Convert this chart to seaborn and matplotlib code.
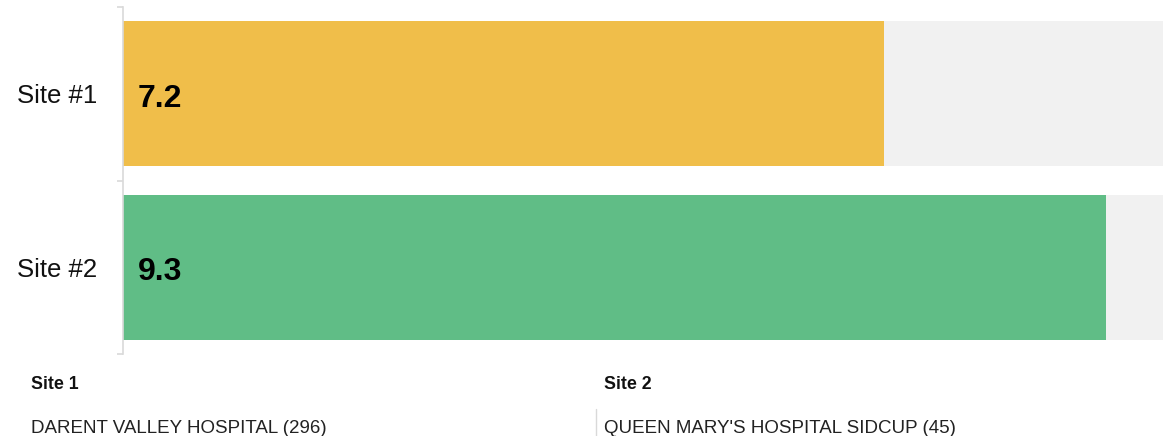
import matplotlib
matplotlib.use("Agg")
import matplotlib.pyplot as plt
from matplotlib.lines import Line2D
import seaborn as sns
import pandas as pd

# ---- data ----
sites = ["Site #1", "Site #2"]
values = [7.2, 9.3]
max_value = [10, 10]
bar_colors = ["#F0BE4A", "#60BD86"]
footer_titles = ["Site 1", "Site 2"]
footer_names = ["DARENT VALLEY HOSPITAL (296)", "QUEEN MARY'S HOSPITAL SIDCUP (45)"]

sns.set_theme(style="white")
plt.rcParams["font.family"] = ["Liberation Sans", "DejaVu Sans"]

W, H = 1163, 436
fig = plt.figure(figsize=(W / 100, H / 100), dpi=100)
ax = fig.add_axes([123 / W, (H - 354) / H, (W - 123) / W, 347 / H])

df = pd.DataFrame({"site": sites, "value": values, "max": max_value})

sns.barplot(data=df, x="max", y="site", color="#F1F1F1", width=0.835,
            saturation=1, linewidth=0, ax=ax, zorder=1)
sns.barplot(data=df, x="value", y="site", hue="site", palette=bar_colors,
            width=0.835, saturation=1, linewidth=0, legend=False, ax=ax, zorder=2)

ax.set_xlim(0, (W - 123) / 105.7)
ax.set_ylim(1.5, -0.5)
ax.set_xlabel("")
ax.set_ylabel("")
ax.set_xticks([])

# major ticks at band boundaries, labels at band centres
ax.set_yticks([-0.5, 0.5, 1.5])
ax.set_yticklabels([])
ax.set_yticks([0, 1], minor=True)
ax.set_yticklabels(sites, minor=True, fontsize=18.5, color="#111111")
ax.tick_params(axis="y", which="major", length=4.3, width=1.2, color="#D9D9D9", left=True)
ax.tick_params(axis="y", which="minor", length=0, pad=18.5)

for s in ["top", "right", "bottom"]:
    ax.spines[s].set_visible(False)
ax.spines["left"].set_color("#D9D9D9")
ax.spines["left"].set_linewidth(1.2)

for i, v in enumerate(values):
    ax.annotate(f"{v:.1f}", xy=(0, i), xytext=(10.8, -3.6), textcoords="offset points",
                ha="left", va="center", fontsize=23, fontweight="bold", color="#000000")

# footer
xs = [31, 604]
for x, t, n in zip(xs, footer_titles, footer_names):
    fig.text(x / W, 1 - 384 / H, t, ha="left", va="center", fontsize=12.8,
             fontweight="bold", color="#111111")
    fig.text(x / W, 1 - 428 / H, n, ha="left", va="center", fontsize=13.5,
             color="#222222")
fig.add_artist(Line2D([596 / W, 596 / W], [0, (H - 409) / H],
                      transform=fig.transFigure, color="#D9D9D9", linewidth=1))

fig.savefig("out.png", dpi=100)
